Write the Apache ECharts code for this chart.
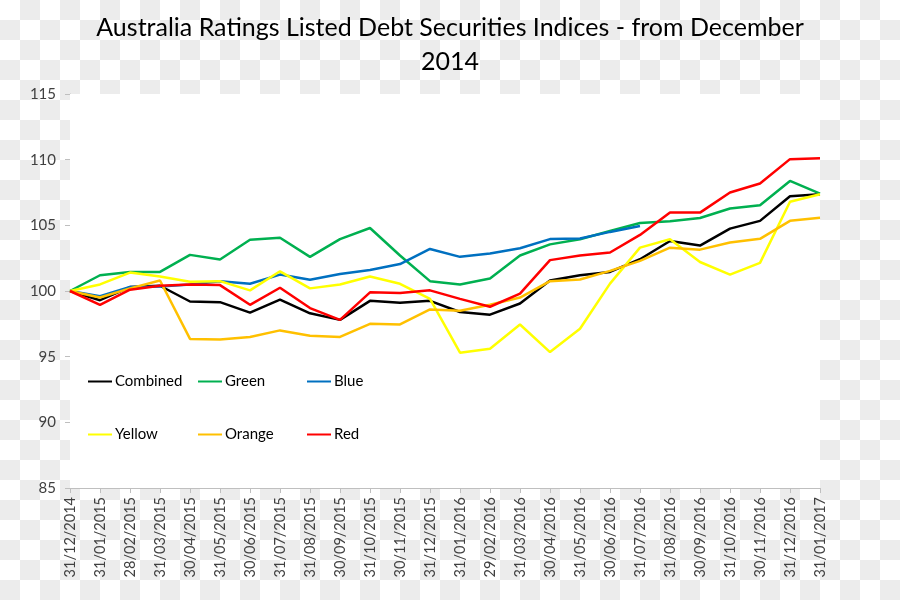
<!DOCTYPE html>
<html>
<head>
<meta charset="utf-8">
<script src="https://cdn.jsdelivr.net/npm/echarts@6/dist/echarts.min.js"></script>
<style>
html,body{margin:0;padding:0;background:#fff;}
#c{width:900px;height:600px;}
</style>
</head>
<body>
<div id="c"></div>
<script>
const categories = ["31/12/2014","31/01/2015","28/02/2015","31/03/2015","30/04/2015","31/05/2015","30/06/2015","31/07/2015","31/08/2015","30/09/2015","31/10/2015","30/11/2015","31/12/2015","31/01/2016","29/02/2016","31/03/2016","30/04/2016","31/05/2016","30/06/2016","31/07/2016","31/08/2016","30/09/2016","31/10/2016","30/11/2016","31/12/2016","31/01/2017"];
const combined = [100,99.3,100.3,100.4,99.2,99.15,98.35,99.35,98.3,97.8,99.25,99.1,99.25,98.4,98.2,99.05,100.8,101.2,101.45,102.42,103.81,103.46,104.75,105.34,107.22,107.37];
const green = [100,101.2,101.45,101.45,102.75,102.4,103.9,104.05,102.6,103.95,104.8,102.7,100.75,100.5,100.95,102.7,103.55,103.94,104.57,105.18,105.31,105.56,106.28,106.53,108.38,107.42];
const blue = [100,99.6,100.3,100.35,100.5,100.75,100.55,101.25,100.85,101.3,101.6,102.05,103.2,102.6,102.85,103.25,103.95,104.0,104.5,104.95,null,null,null,null,null,null];
const yellow = [100,100.5,101.4,101.1,100.7,100.75,100.05,101.5,100.2,100.5,101.1,100.55,99.4,95.3,95.6,97.45,95.35,97.13,100.56,103.3,103.94,102.21,101.25,102.14,106.8,107.37];
const orange = [100,99.5,100.2,100.8,96.35,96.3,96.5,97.0,96.6,96.5,97.5,97.45,98.6,98.5,98.95,99.5,100.75,100.87,101.53,102.29,103.3,103.15,103.69,103.97,105.34,105.57];
const red = [100,98.95,100.1,100.4,100.5,100.45,98.95,100.25,98.7,97.8,99.9,99.85,100.05,99.4,98.8,99.8,102.35,102.7,102.93,104.27,105.97,105.97,107.5,108.19,110.04,110.11];
const titleLine1 = "Australia Ratings Listed Debt Securities Indices - from December";
const titleLine2 = "2014";

const FONT = "Lato";
const seriesDefs = [
  {name:"Combined", data:combined, color:"#000000"},
  {name:"Green", data:green, color:"#00b050"},
  {name:"Blue", data:blue, color:"#0070c0"},
  {name:"Yellow", data:yellow, color:"#ffff00"},
  {name:"Orange", data:orange, color:"#ffc000"},
  {name:"Red", data:red, color:"#ff0000"}
];
const legendPos = [[83,369],[193,369],[302,369],[83,422],[193,422],[302,422]];

// checkerboard background squares (transparent-background look of the source image)
const checker = [];
for (let r = 0; r < 30; r++) {
  for (let c = 0; c < 45; c++) {
    if ((r + c) % 2 === 1) {
      checker.push({type: 'rect', silent: true, z: -100, zlevel: 0,
        shape: {x: c * 20, y: r * 20, width: 20, height: 20},
        style: {fill: '#ececec'}});
    }
  }
}

const chart = echarts.init(document.getElementById('c'), null, {renderer:'canvas'});
chart.setOption({
  backgroundColor: '#ffffff',
  animation: false,
  graphic: {elements: checker},
  title: [
    {text: titleLine1, left: 'center', top: 10,
     textStyle: {fontFamily: FONT, fontSize: 25, fontWeight: 'normal', color: '#000'}},
    {text: titleLine2, left: 'center', top: 44,
     textStyle: {fontFamily: FONT, fontSize: 25, fontWeight: 'normal', color: '#000'}}
  ],
  legend: seriesDefs.map((s, i) => ({
    data: [s.name], left: legendPos[i][0], top: legendPos[i][1],
    icon: 'rect', itemWidth: 24, itemHeight: 2, itemGap: 0,
    textStyle: {fontFamily: FONT, fontSize: 15, color: '#000', padding: [0,0,0,-2]},
    selectedMode: false
  })),
  grid: {left: 70, right: 80, top: 94, bottom: 112, show: true, backgroundColor: '#fff', borderWidth: 0, z: 1},
  xAxis: {
    type: 'category', data: categories, boundaryGap: false,
    axisLine: {lineStyle: {color: '#bfbfbf', width: 1}},
    axisTick: {show: true, alignWithLabel: true, length: 5, lineStyle: {color: '#bfbfbf'}},
    axisLabel: {rotate: 90, interval: 0, margin: 9, fontFamily: FONT, fontSize: 14.5, color: '#404040'},
    splitLine: {show: false}
  },
  yAxis: {
    type: 'value', min: 85, max: 115, interval: 5,
    axisLine: {show: true, lineStyle: {color: '#bfbfbf', width: 1}},
    axisTick: {show: true, length: 5, lineStyle: {color: '#bfbfbf'}},
    axisLabel: {margin: 14, fontFamily: FONT, fontSize: 15, color: '#404040'},
    splitLine: {show: true, lineStyle: {color: '#d0d0d0', width: 1}}
  },
  series: seriesDefs.map(s => ({
    name: s.name, type: 'line', data: s.data, showSymbol: false, symbol: 'none',
    connectNulls: false,
    lineStyle: {color: s.color, width: 2.5}, itemStyle: {color: s.color}
  }))
});
</script>
</body>
</html>
